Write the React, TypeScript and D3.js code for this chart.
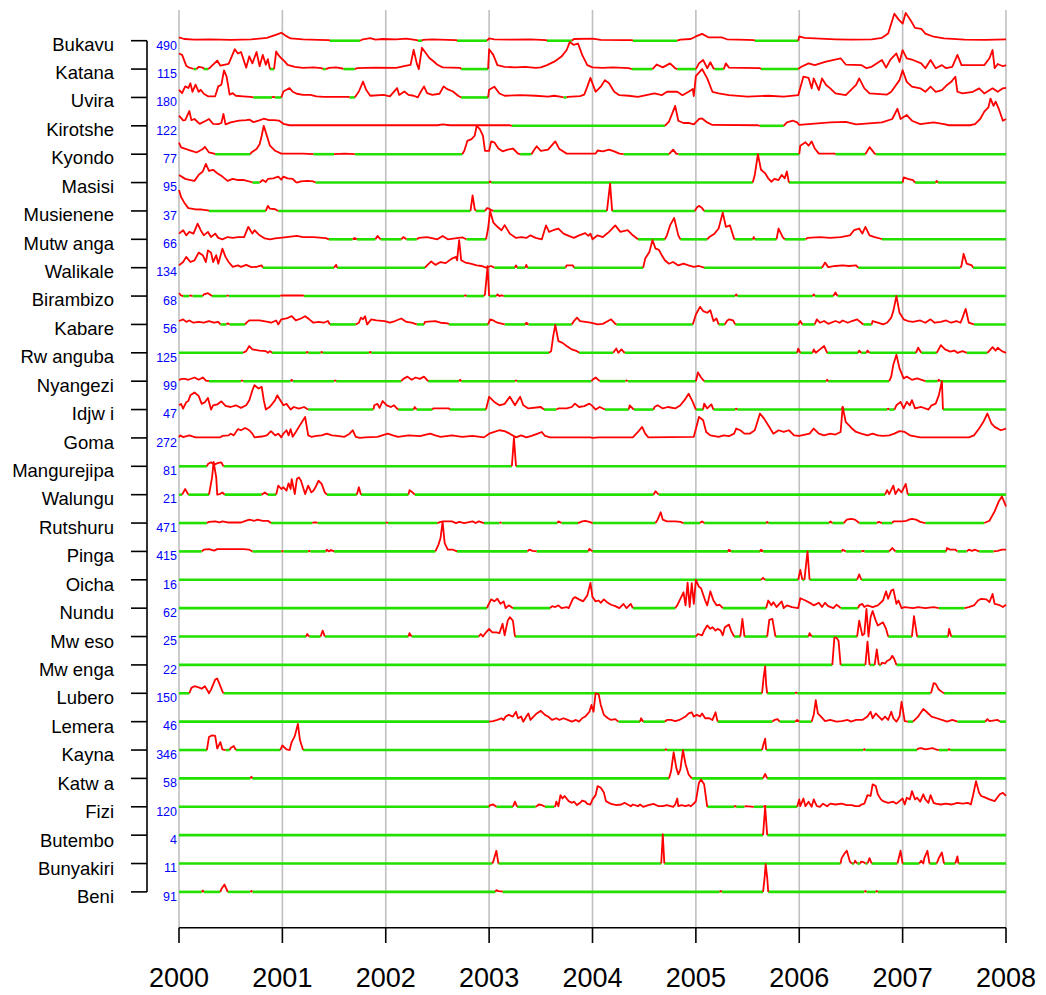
import React from "react";
import * as d3 from "d3";

// ---------- data (time = years after 2000, level = share of the district's weekly peak) ----------
const startYear = 2000;
const yearTicks = [2000, 2001, 2002, 2003, 2004, 2005, 2006, 2007, 2008];

const districts = ["Bukavu", "Katana", "Uvira", "Kirotshe", "Kyondo", "Masisi", "Musienene", "Mutw anga", "Walikale", "Birambizo", "Kabare", "Rw anguba", "Nyangezi", "Idjw i", "Goma", "Mangurejipa", "Walungu", "Rutshuru", "Pinga", "Oicha", "Nundu", "Mw eso", "Mw enga", "Lubero", "Lemera", "Kayna", "Katw a", "Fizi", "Butembo", "Bunyakiri", "Beni"];
const peakCases = [490, 115, 180, 122, 77, 95, 37, 66, 134, 68, 56, 125, 99, 47, 272, 81, 21, 471, 415, 16, 62, 25, 22, 150, 46, 346, 58, 120, 4, 11, 91];

type Pt = [number, number];

const bukavu: Pt[] = [[0,0.12],[0.05,0.06],[0.15,0.04],[0.3,0.05],[0.5,0.03],[0.7,0.05],[0.85,0.1],[0.95,0.22],[0.99,0.28],[1.03,0.18],[1.08,0.08],[1.2,0.05],[1.35,0.03],[1.45,0.02],[1.46,0],[1.75,0],[1.78,0.05],[1.85,0.09],[1.9,0.04],[1.97,0.06],[2.1,0.05],[2.2,0.07],[2.3,0.02],[2.31,0],[2.35,0],[2.36,0.03],[2.45,0.05],[2.6,0.03],[2.68,0.02],[2.69,0],[2.98,0],[3.0,0.08],[3.05,0.05],[3.2,0.04],[3.4,0.05],[3.55,0.02],[3.56,0],[3.8,0],[3.82,0.06],[4.0,0.07],[4.08,0.03],[4.3,0.02],[4.38,0.02],[4.39,0],[4.82,0],[4.85,0.04],[4.95,0.06],[5.0,0.15],[5.06,0.24],[5.12,0.12],[5.25,0.12],[5.3,0.05],[5.5,0.03],[5.56,0.02],[5.57,0],[5.99,0],[6.0,0.15],[6.05,0.1],[6.2,0.07],[6.35,0.05],[6.5,0.04],[6.7,0.05],[6.8,0.1],[6.86,0.25],[6.92,0.95],[6.96,0.75],[7.0,0.6],[7.03,0.98],[7.08,0.7],[7.12,0.45],[7.18,0.42],[7.22,0.25],[7.3,0.14],[7.4,0.08],[7.6,0.04],[7.8,0.03],[8.0,0.05]];
const katana: Pt[] = [[0,0.55],[0.03,0.5],[0.07,0.12],[0.1,0.05],[0.13,0.02],[0.14,0],[0.17,0],[0.19,0.08],[0.23,0.05],[0.24,0],[0.28,0],[0.3,0.05],[0.37,0.3],[0.4,0.12],[0.48,0.18],[0.54,0.7],[0.57,0.55],[0.6,0.6],[0.65,0.05],[0.68,0.45],[0.71,0.2],[0.75,0.6],[0.78,0.1],[0.81,0.5],[0.84,0.15],[0.86,0.35],[0.88,0],[0.92,0],[0.94,0.62],[0.96,0.5],[0.99,0.38],[1.02,0.28],[1.05,0.15],[1.12,0.08],[1.2,0.04],[1.3,0.06],[1.38,0.03],[1.39,0],[1.42,0],[1.45,0.04],[1.52,0.06],[1.58,0.02],[1.59,0],[1.7,0],[1.72,0.03],[1.9,0.05],[2.1,0.04],[2.2,0.12],[2.24,0.15],[2.27,0.68],[2.3,0.2],[2.32,0],[2.35,0.75],[2.38,0.6],[2.42,0.4],[2.47,0.25],[2.5,0.15],[2.55,0.06],[2.72,0.04],[2.73,0],[2.99,0],[3.0,0.7],[3.04,0.5],[3.08,0.14],[3.15,0.08],[3.25,0.06],[3.35,0.08],[3.45,0.04],[3.5,0.06],[3.56,0.14],[3.63,0.26],[3.7,0.44],[3.75,0.67],[3.78,0.95],[3.82,0.85],[3.86,0.9],[3.9,0.5],[3.95,0.14],[4.0,0.06],[4.1,0.04],[4.2,0.06],[4.35,0.03],[4.38,0],[4.58,0],[4.62,0.16],[4.68,0.06],[4.75,0.2],[4.8,0.03],[4.82,0],[5.0,0],[5.03,0.2],[5.07,0.32],[5.11,0.03],[5.14,0.24],[5.17,0.03],[5.18,0],[5.27,0],[5.29,0.2],[5.32,0.05],[5.45,0.04],[5.62,0.03],[5.63,0],[5.99,0],[6.02,0.08],[6.09,0.2],[6.15,0.14],[6.25,0.25],[6.4,0.38],[6.45,0.16],[6.6,0.14],[6.65,0.03],[6.7,0.08],[6.8,0.32],[6.84,0.05],[6.88,0.32],[6.94,0.55],[6.97,0.25],[7.0,0.67],[7.04,0.38],[7.1,0.32],[7.18,0.2],[7.22,0.03],[7.27,0.32],[7.32,0.03],[7.38,0.14],[7.42,0.03],[7.48,0.08],[7.53,0.5],[7.57,0.14],[7.79,0.14],[7.84,0.38],[7.87,0.67],[7.89,0.03],[7.92,0.18],[7.97,0.1],[8.0,0.14]];
const uvira: Pt[] = [[0,0.27],[0.03,0.15],[0.06,0.39],[0.09,0.33],[0.11,0.5],[0.13,0.2],[0.16,0.45],[0.19,0.2],[0.21,0.27],[0.24,0.13],[0.28,0.04],[0.35,0.04],[0.38,0.39],[0.41,0.45],[0.435,0.95],[0.46,0.74],[0.49,0.1],[0.52,0.15],[0.55,0.06],[0.62,0.04],[0.69,0.02],[0.72,0],[0.9,0],[0.91,0.02],[0.93,0],[0.99,0],[1.01,0.21],[1.04,0.27],[1.07,0.33],[1.1,0.2],[1.14,0.13],[1.2,0.09],[1.27,0.09],[1.33,0.04],[1.4,0.02],[1.64,0.02],[1.65,0],[1.7,0],[1.74,0.21],[1.78,0.56],[1.81,0.27],[1.85,0.06],[1.98,0.09],[2.04,0.04],[2.11,0.33],[2.13,0.09],[2.18,0.21],[2.22,0.09],[2.27,0.06],[2.31,0],[2.34,0.21],[2.37,0.39],[2.4,0.15],[2.45,0.09],[2.52,0.13],[2.56,0.39],[2.59,0.3],[2.65,0.21],[2.7,0.06],[2.73,0],[2.99,0],[3.0,0.27],[3.05,0.38],[3.1,0.14],[3.15,0.06],[3.3,0.08],[3.45,0.06],[3.57,0.03],[3.63,0.06],[3.7,0.02],[3.72,0],[3.75,0],[3.76,0.02],[3.88,0.05],[3.92,0.1],[3.95,0.38],[3.98,0.69],[4.03,0.2],[4.08,0.38],[4.12,0.61],[4.16,0.5],[4.21,0.2],[4.26,0.08],[4.35,0.06],[4.44,0.02],[4.52,0.08],[4.6,0.14],[4.67,0.08],[4.72,0.2],[4.82,0.2],[4.87,0.08],[4.93,0.2],[4.97,0.3],[4.98,0.05],[5.0,0.75],[5.06,1.0],[5.11,0.67],[5.16,0.2],[5.22,0.14],[5.32,0.08],[5.5,0.03],[5.7,0.06],[5.85,0.03],[5.99,0.08],[6.04,0.73],[6.09,0.69],[6.12,0.32],[6.14,0.67],[6.19,0.26],[6.22,0.67],[6.26,0.44],[6.3,0.32],[6.35,0.14],[6.45,0.08],[6.55,0.44],[6.58,0.67],[6.63,0.32],[6.68,0.14],[6.85,0.1],[6.89,0.2],[6.97,0.61],[7.0,0.96],[7.04,0.55],[7.09,0.38],[7.17,0.32],[7.22,0.2],[7.27,0.38],[7.32,0.2],[7.38,0.26],[7.43,0.44],[7.47,0.55],[7.51,0.73],[7.53,0.2],[7.58,0.14],[7.68,0.2],[7.74,0.32],[7.79,0.14],[7.87,0.32],[7.92,0.2],[7.97,0.32],[8.0,0.34]];
const kirotshe: Pt[] = [[0,0.36],[0.04,0.19],[0.06,0.2],[0.1,0.52],[0.12,0.2],[0.15,0.24],[0.2,0.07],[0.26,0.18],[0.29,0.24],[0.33,0.07],[0.38,0.06],[0.41,0.1],[0.43,0.42],[0.45,0.05],[0.5,0.12],[0.58,0.18],[0.65,0.2],[0.68,0.22],[0.72,0.13],[0.77,0.18],[0.82,0.25],[0.87,0.2],[0.92,0.2],[0.97,0.18],[1.01,0.07],[1.07,0.02],[1.3,0.02],[1.6,0.02],[2.5,0.02],[2.55,0.05],[2.62,0.02],[3.0,0.02],[3.2,0.02],[3.22,0],[4.7,0],[4.74,0.15],[4.8,0.7],[4.83,0.18],[4.88,0.1],[4.93,0.1],[4.98,0.05],[5.03,0.24],[5.06,0.26],[5.11,0.12],[5.16,0.03],[5.6,0.02],[5.62,0],[5.85,0],[5.88,0.12],[5.94,0.18],[5.98,0.12],[6.0,0.03],[6.3,0.12],[6.45,0.14],[6.55,0.05],[6.8,0.12],[6.9,0.24],[6.95,0.6],[6.98,0.24],[7.04,0.38],[7.09,0.18],[7.17,0.06],[7.3,0.12],[7.4,0.06],[7.45,0.02],[7.65,0.02],[7.7,0.06],[7.75,0.24],[7.79,0.5],[7.83,0.65],[7.85,0.96],[7.88,0.7],[7.9,0.85],[7.93,0.6],[7.97,0.18],[8.0,0.24]];
const kyondo: Pt[] = [[0,0.41],[0.02,0.24],[0.07,0.18],[0.12,0.12],[0.17,0.06],[0.2,0.12],[0.23,0.18],[0.25,0.26],[0.29,0.06],[0.34,0.02],[0.35,0],[0.69,0],[0.7,0.06],[0.75,0.18],[0.78,0.35],[0.8,0.65],[0.82,1.0],[0.85,0.65],[0.88,0.3],[0.93,0.12],[0.99,0.02],[1.2,0.02],[1.3,0],[1.5,0],[1.6,0.02],[1.7,0],[2.74,0],[2.76,0.12],[2.79,0.47],[2.83,0.53],[2.86,0.65],[2.88,1.0],[2.91,0.88],[2.94,0.65],[2.96,0.12],[3.0,0.12],[3.02,0.45],[3.05,0.42],[3.09,0.2],[3.13,0.1],[3.18,0.16],[3.23,0.2],[3.28,0.02],[3.3,0],[3.41,0],[3.43,0.12],[3.46,0.28],[3.5,0.12],[3.57,0.16],[3.64,0.45],[3.68,0.18],[3.75,0.02],[4.03,0.02],[4.05,0.13],[4.1,0.1],[4.16,0.16],[4.21,0.1],[4.26,0.02],[4.3,0],[4.74,0],[4.78,0.16],[4.81,0.02],[4.83,0],[6.0,0],[6.01,0.3],[6.06,0.42],[6.09,0.3],[6.12,0.45],[6.15,0.2],[6.19,0.02],[6.34,0.02],[6.35,0],[6.64,0],[6.68,0.25],[6.73,0.02],[6.74,0],[8,0]];
const masisi: Pt[] = [[0,0.27],[0.06,0.13],[0.11,0.09],[0.15,0.06],[0.19,0.27],[0.23,0.39],[0.26,0.66],[0.29,0.41],[0.33,0.45],[0.37,0.33],[0.42,0.21],[0.47,0.06],[0.52,0.13],[0.57,0.09],[0.63,0.09],[0.7,0.02],[0.71,0],[0.78,0],[0.81,0.09],[0.84,0.02],[0.86,0.13],[0.91,0.15],[0.96,0.21],[0.99,0.1],[1.01,0.21],[1.05,0.15],[1.1,0.13],[1.13,0.02],[1.14,0],[1.18,0.04],[1.24,0.06],[1.3,0.04],[1.32,0],[3.0,0],[3.01,0.04],[3.02,0],[5.55,0],[5.57,0.27],[5.6,1.0],[5.63,0.45],[5.67,0.33],[5.7,0.15],[5.73,0.03],[5.76,0.13],[5.8,0.09],[5.83,0.27],[5.86,0.15],[5.88,0.39],[5.9,0],[7.0,0],[7.01,0.18],[7.05,0.13],[7.1,0.09],[7.12,0],[7.32,0],[7.33,0.06],[7.34,0],[8,0]];
const musienene: Pt[] = [[0,0.74],[0.02,0.49],[0.05,0.3],[0.09,0.1],[0.15,0.06],[0.22,0.05],[0.28,0.02],[0.29,0],[0.84,0],[0.86,0.18],[0.88,0.08],[0.93,0.06],[0.96,0],[2.82,0],[2.84,0.55],[2.86,0.08],[2.87,0],[2.96,0],[2.98,0.1],[3.0,0.08],[3.02,0.03],[3.04,0],[4.14,0],[4.17,0.96],[4.19,0],[4.99,0],[5.01,0.12],[5.03,0.18],[5.06,0.1],[5.08,0],[8,0]];
const mutwanga: Pt[] = [[0,0.2],[0.04,0.32],[0.07,0.14],[0.1,0.26],[0.14,0.2],[0.18,0.55],[0.21,0.32],[0.24,0.14],[0.28,0.26],[0.31,0.08],[0.35,0.2],[0.38,0.05],[0.42,0],[0.47,0.08],[0.52,0.05],[0.57,0.08],[0.63,0.08],[0.67,0.44],[0.71,0.2],[0.73,0.32],[0.78,0.14],[0.83,0.03],[0.88,0],[0.93,0.03],[1.0,0.06],[1.14,0.12],[1.2,0.08],[1.3,0.08],[1.42,0.04],[1.45,0],[1.68,0],[1.7,0.05],[1.72,0],[1.9,0],[1.92,0.12],[1.95,0],[2.15,0],[2.17,0.08],[2.2,0],[2.3,0],[2.32,0.05],[2.4,0.08],[2.5,0],[2.55,0.12],[2.6,0],[2.74,0.07],[2.78,0],[2.97,0],[2.99,0.38],[3.01,1.0],[3.04,0.6],[3.08,0.44],[3.12,0.32],[3.15,0.5],[3.2,0.2],[3.26,0.05],[3.31,0.08],[3.36,0.05],[3.4,0.14],[3.45,0.05],[3.51,0],[3.55,0.49],[3.58,0.26],[3.62,0.32],[3.67,0.38],[3.72,0.2],[3.77,0.12],[3.82,0.05],[3.87,0.14],[3.93,0.22],[3.96,0.12],[3.98,0.2],[4.0,0],[4.05,0.14],[4.1,0.08],[4.16,0.26],[4.22,0.49],[4.27,0.26],[4.34,0.32],[4.39,0.14],[4.44,0],[4.7,0],[4.72,0.14],[4.75,0.49],[4.79,0.75],[4.83,0.14],[4.85,0],[5.11,0],[5.13,0.08],[5.18,0.2],[5.22,0.38],[5.26,0.94],[5.29,0.44],[5.33,0.49],[5.37,0.02],[5.38,0],[5.55,0],[5.56,0.08],[5.57,0],[5.78,0],[5.8,0.38],[5.84,0.08],[5.86,0],[6.06,0],[6.08,0.05],[6.2,0.08],[6.3,0.05],[6.4,0.08],[6.49,0.14],[6.53,0.32],[6.58,0.38],[6.61,0.2],[6.64,0.44],[6.68,0.14],[6.73,0.08],[6.79,0.02],[6.8,0],[8,0]];
const walikale: Pt[] = [[0,0.08],[0.04,0.2],[0.07,0.38],[0.11,0.2],[0.15,0.26],[0.19,0.53],[0.23,0.44],[0.26,0.2],[0.28,0.61],[0.31,0.53],[0.33,0.2],[0.36,0.44],[0.38,0.14],[0.42,0.67],[0.45,0.38],[0.48,0.2],[0.52,0.03],[0.57,0.08],[0.6,0.03],[0.65,0.1],[0.7,0.02],[0.75,0.03],[0.8,0.08],[0.81,0],[1.5,0],[1.52,0.1],[1.53,0],[2.38,0],[2.4,0.08],[2.44,0.22],[2.48,0.1],[2.53,0.2],[2.58,0.16],[2.64,0.32],[2.68,0.38],[2.69,0.26],[2.71,0.97],[2.73,0.26],[2.77,0.18],[2.82,0.14],[2.88,0.08],[2.93,0.06],[2.97,0],[3.02,0.06],[3.05,0],[3.25,0],[3.26,0.08],[3.27,0],[3.35,0],[3.36,0.1],[3.37,0],[3.74,0],[3.75,0.08],[3.81,0.08],[3.82,0],[4.49,0],[4.51,0.32],[4.55,0.55],[4.58,0.97],[4.61,0.67],[4.64,0.64],[4.67,0.44],[4.7,0.26],[4.74,0.14],[4.78,0.2],[4.83,0.08],[4.88,0.14],[4.93,0.08],[4.98,0.03],[5.03,0.06],[5.08,0],[6.22,0],[6.25,0.18],[6.28,0.02],[6.35,0.06],[6.42,0.08],[6.48,0.06],[6.55,0.08],[6.57,0],[7.56,0],[7.57,0.08],[7.59,0.49],[7.62,0.14],[7.67,0.08],[7.68,0],[8,0]];
const birambizo: Pt[] = [[0,0.1],[0.02,0.02],[0.04,0],[0.1,0],[0.11,0.02],[0.13,0],[0.23,0],[0.24,0.06],[0.28,0.1],[0.32,0],[0.46,0],[0.47,0.02],[0.48,0],[0.98,0],[0.99,0.02],[1.2,0.02],[1.21,0],[2.76,0],[2.77,0.03],[2.78,0],[2.95,0],[2.96,0.06],[2.985,1.05],[3.0,0],[3.07,0],[3.08,0.06],[3.1,0],[3.12,0.03],[3.14,0],[5.38,0],[5.39,0.06],[5.4,0],[6.13,0],[6.14,0.06],[6.15,0],[6.33,0],[6.35,0.13],[6.37,0],[8,0]];
const kabare: Pt[] = [[0,0.12],[0.04,0.18],[0.07,0.09],[0.1,0.14],[0.14,0.06],[0.19,0.09],[0.24,0.06],[0.29,0.12],[0.34,0.06],[0.38,0.09],[0.4,0],[0.46,0],[0.47,0.04],[0.49,0],[0.64,0],[0.66,0.09],[0.68,0.14],[0.78,0.14],[0.86,0.09],[0.89,0.06],[0.94,0.14],[0.96,0],[0.99,0.18],[1.04,0.21],[1.09,0.29],[1.13,0.14],[1.18,0.21],[1.22,0.29],[1.26,0.18],[1.3,0.06],[1.35,0.09],[1.4,0.06],[1.44,0.12],[1.46,0],[1.71,0],[1.74,0.06],[1.76,0.24],[1.78,0.18],[1.8,0.29],[1.82,0],[1.86,0.18],[1.91,0.14],[1.99,0.12],[2.04,0.06],[2.09,0.12],[2.15,0.21],[2.2,0.09],[2.25,0.06],[2.3,0],[2.37,0],[2.38,0.09],[2.48,0.12],[2.53,0.06],[2.6,0.04],[2.61,0],[2.99,0],[3.01,0.18],[3.04,0.14],[3.08,0.06],[3.12,0.03],[3.15,0],[3.35,0],[3.36,0.06],[3.38,0],[3.8,0],[3.82,0.12],[3.85,0.24],[3.88,0.12],[3.93,0.09],[3.98,0.06],[4.05,0],[4.1,0.02],[4.15,0.12],[4.18,0.18],[4.21,0.06],[4.23,0],[4.97,0],[5.0,0.35],[5.04,0.62],[5.07,0.47],[5.11,0.41],[5.14,0.5],[5.17,0.12],[5.2,0.21],[5.22,0],[5.28,0],[5.3,0.12],[5.32,0.18],[5.36,0.14],[5.38,0],[5.99,0],[6.01,0.12],[6.03,0],[6.15,0],[6.17,0.18],[6.2,0.06],[6.24,0.12],[6.28,0.02],[6.35,0.12],[6.39,0.06],[6.42,0.14],[6.47,0.06],[6.51,0.12],[6.56,0.18],[6.6,0.06],[6.62,0],[6.7,0],[6.71,0.12],[6.76,0.06],[6.81,0],[6.85,0.06],[6.89,0.24],[6.91,0.47],[6.94,1.0],[6.97,0.41],[7.01,0.18],[7.05,0.12],[7.1,0.09],[7.17,0.14],[7.22,0.06],[7.27,0.18],[7.31,0.06],[7.37,0.09],[7.42,0.14],[7.47,0.06],[7.52,0.12],[7.56,0.06],[7.58,0.24],[7.61,0.55],[7.64,0.06],[7.69,0],[8,0]];
const rwanguba: Pt[] = [[0,0],[0.62,0],[0.65,0.06],[0.68,0.24],[0.71,0.12],[0.78,0.08],[0.84,0.06],[0.86,0],[0.88,0.06],[0.9,0],[1.23,0],[1.24,0.03],[1.25,0],[1.37,0],[1.38,0.03],[1.39,0],[1.84,0],[1.85,0.03],[1.86,0],[3.58,0],[3.6,0.06],[3.62,0.59],[3.64,0.98],[3.67,0.41],[3.71,0.35],[3.75,0.24],[3.8,0.12],[3.85,0.06],[3.87,0],[4.2,0],[4.23,0.15],[4.25,0],[4.28,0.12],[4.31,0],[5.98,0],[5.99,0.15],[6.01,0],[6.13,0],[6.14,0.12],[6.16,0],[6.2,0.12],[6.24,0.24],[6.27,0],[6.57,0],[6.58,0.08],[6.6,0],[6.65,0],[6.66,0.08],[6.68,0],[7.13,0],[7.15,0.18],[7.18,0],[7.33,0],[7.37,0.27],[7.41,0.12],[7.46,0.04],[7.5,0.08],[7.53,0],[7.58,0.06],[7.62,0],[7.82,0],[7.84,0.08],[7.87,0.2],[7.9,0.08],[7.92,0.18],[7.96,0.06],[8,0]];
const nyangezi: Pt[] = [[0,0.05],[0.03,0.08],[0.06,0.08],[0.09,0.05],[0.15,0.13],[0.19,0.05],[0.23,0.13],[0.26,0.02],[0.29,0],[0.6,0],[0.61,0.03],[0.62,0],[1.08,0],[1.09,0.05],[1.1,0],[1.5,0],[1.51,0.03],[1.52,0],[2.15,0],[2.17,0.08],[2.21,0.16],[2.25,0.05],[2.29,0.13],[2.33,0.08],[2.37,0.16],[2.41,0],[2.71,0],[2.72,0.05],[2.73,0],[3.25,0],[3.26,0.03],[3.27,0],[3.99,0],[4.0,0.05],[4.03,0.13],[4.07,0],[4.32,0],[4.33,0.03],[4.34,0],[5.0,0],[5.02,0.31],[5.05,0.13],[5.08,0],[6.26,0],[6.27,0.05],[6.28,0],[6.87,0],[6.89,0.16],[6.91,0.58],[6.94,0.93],[6.97,0.45],[7.01,0.1],[7.04,0.16],[7.09,0.05],[7.14,0.1],[7.22,0],[7.34,0],[7.35,0.05],[7.36,0],[8,0]];
const idjwi: Pt[] = [[0,0.15],[0.02,0.2],[0.04,0.03],[0.07,0.26],[0.09,0.3],[0.11,0.5],[0.15,0.6],[0.19,0.48],[0.22,0.2],[0.25,0.26],[0.28,0.41],[0.31,0],[0.33,0.15],[0.37,0.18],[0.41,0.29],[0.45,0.13],[0.5,0.09],[0.55,0.15],[0.6,0.06],[0.65,0.15],[0.68,0.33],[0.71,0.68],[0.73,0.86],[0.77,0.74],[0.8,0.8],[0.82,0.33],[0.84,0],[0.88,0.1],[0.93,0.33],[0.95,0.5],[0.98,0.33],[1.01,0.15],[1.04,0.2],[1.08,0],[1.11,0.09],[1.16,0.03],[1.21,0.09],[1.24,0.02],[1.25,0],[1.88,0],[1.89,0.15],[1.92,0.2],[1.94,0.06],[1.97,0.3],[2.01,0.15],[2.05,0.09],[2.08,0.15],[2.12,0],[2.27,0],[2.28,0.09],[2.3,0],[2.45,0],[2.46,0.04],[2.61,0.04],[2.62,0],[2.97,0],[3.0,0.45],[3.05,0.27],[3.1,0.15],[3.15,0.2],[3.2,0.45],[3.25,0.15],[3.3,0.45],[3.33,0.15],[3.38,0.04],[3.5,0.09],[3.53,0],[3.65,0],[3.67,0.04],[3.75,0.04],[3.8,0.09],[3.83,0.21],[3.87,0.09],[3.92,0.12],[3.97,0.21],[4.0,0.12],[4.03,0],[4.07,0.09],[4.12,0],[4.35,0],[4.36,0.15],[4.39,0.03],[4.4,0],[4.59,0],[4.6,0.09],[4.63,0.15],[4.68,0.04],[4.73,0.09],[4.8,0.04],[4.85,0.15],[4.89,0.33],[4.93,0.56],[4.97,0.27],[5.0,0],[5.07,0],[5.08,0.21],[5.11,0.04],[5.15,0.18],[5.17,0],[5.38,0],[5.39,0.03],[5.4,0],[6.41,0],[6.42,0.09],[6.43,0],[6.85,0],[6.86,0.03],[6.87,0],[6.92,0],[6.94,0.15],[6.98,0.27],[7.01,0.04],[7.04,0.27],[7.07,0.15],[7.09,0.33],[7.12,0.04],[7.18,0.09],[7.25,0],[7.28,0.15],[7.32,0.21],[7.35,0.5],[7.38,1.0],[7.39,0],[8,0]];
const goma: Pt[] = [[0,0.02],[0.01,0.09],[0.04,0.03],[0.1,0.09],[0.16,0.02],[0.4,0.02],[0.42,0.07],[0.48,0.09],[0.5,0.15],[0.53,0.09],[0.57,0.31],[0.6,0.27],[0.64,0.35],[0.68,0.27],[0.71,0.15],[0.73,0.02],[0.8,0.05],[0.85,0.09],[0.89,0.24],[0.93,0.09],[0.96,0.15],[0.99,0.02],[1.01,0.15],[1.04,0.27],[1.06,0.09],[1.08,0.31],[1.1,0.04],[1.13,0.21],[1.17,0.45],[1.2,0.62],[1.22,0.74],[1.25,0.09],[1.28,0.04],[1.33,0.07],[1.38,0.09],[1.43,0.15],[1.48,0.09],[1.53,0.07],[1.6,0.04],[1.65,0.15],[1.68,0.27],[1.71,0.04],[1.75,0],[1.8,0.02],[1.92,0.04],[2.02,0.15],[2.07,0.09],[2.12,0.04],[2.22,0.09],[2.33,0.06],[2.43,0.15],[2.48,0.09],[2.53,0.04],[2.64,0.09],[2.74,0.04],[2.84,0.07],[2.95,0.02],[3.0,0.15],[3.05,0.21],[3.1,0.27],[3.15,0.24],[3.2,0.15],[3.26,0.02],[3.31,0.09],[3.36,0.02],[3.41,0.07],[3.47,0.15],[3.51,0.21],[3.54,0.07],[3.59,0.02],[3.98,0.02],[4.0,0],[4.06,0.02],[4.39,0.02],[4.44,0.21],[4.48,0.39],[4.51,0.15],[4.54,0.02],[4.98,0.04],[5.03,0.74],[5.07,0.62],[5.1,0.21],[5.14,0.09],[5.22,0.04],[5.27,0.09],[5.32,0.06],[5.37,0.15],[5.39,0.33],[5.43,0.27],[5.47,0.15],[5.52,0.15],[5.57,0.27],[5.62,0.86],[5.66,0.68],[5.7,0.45],[5.75,0.15],[5.8,0.27],[5.85,0.21],[5.9,0.27],[5.95,0.09],[6.0,0.07],[6.1,0.15],[6.14,0.33],[6.19,0.15],[6.24,0.09],[6.3,0.15],[6.35,0.12],[6.4,0.21],[6.42,1.09],[6.45,0.56],[6.48,0.45],[6.51,0.33],[6.55,0.21],[6.6,0.15],[6.66,0.09],[6.71,0.15],[6.76,0.09],[6.81,0.07],[6.87,0.09],[6.92,0.15],[6.97,0.24],[7.02,0.21],[7.07,0.09],[7.17,0.02],[7.64,0.02],[7.69,0.09],[7.74,0.33],[7.78,0.56],[7.82,0.86],[7.86,0.5],[7.89,0.39],[7.95,0.27],[8.0,0.33]];
const mangurejipa: Pt[] = [[0,0],[0.27,0],[0.28,0.08],[0.31,0.14],[0.34,0.06],[0.38,0.12],[0.41,0.14],[0.43,0],[3.22,0],[3.24,1.0],[3.26,0],[8,0]];
const walungu: Pt[] = [[0,0],[0.03,0],[0.06,0.2],[0.09,0],[0.29,0],[0.32,0.61],[0.335,1.15],[0.36,0.61],[0.37,0],[0.4,0.03],[0.42,0.08],[0.44,0],[0.8,0],[0.83,0.08],[0.86,0],[0.94,0],[0.96,0.32],[0.99,0.2],[1.01,0.26],[1.04,0.14],[1.06,0.4],[1.08,0.2],[1.09,0.55],[1.12,0.02],[1.14,0.55],[1.16,0.61],[1.18,0.49],[1.2,0.26],[1.22,0.02],[1.25,0.32],[1.28,0.08],[1.3,0.14],[1.32,0.26],[1.35,0.49],[1.38,0.38],[1.41,0.08],[1.43,0],[1.72,0],[1.74,0.26],[1.76,0],[2.22,0],[2.23,0.16],[2.26,0.08],[2.28,0],[4.59,0],[4.61,0.12],[4.64,0],[6.83,0],[6.85,0.16],[6.87,0.02],[6.91,0.32],[6.93,0.02],[6.96,0.2],[6.99,0.08],[7.03,0.38],[7.05,0],[8,0]];
const rutshuru: Pt[] = [[0,0],[0.27,0],[0.29,0.04],[0.35,0.06],[0.39,0.02],[0.42,0.06],[0.47,0.02],[0.6,0.02],[0.63,0.06],[0.68,0.12],[0.73,0.08],[0.76,0.12],[0.81,0.08],[0.86,0.08],[0.89,0],[1.29,0],[1.3,0.02],[1.33,0.02],[1.34,0],[2.0,0],[2.01,0.02],[2.02,0],[2.5,0],[2.53,0.04],[2.56,0.06],[2.64,0.06],[2.68,0],[2.71,0.04],[2.76,0],[2.84,0.06],[2.87,0],[2.9,0.06],[2.95,0],[3.1,0],[3.11,0.02],[3.12,0],[3.66,0],[3.67,0.06],[3.7,0],[3.86,0],[3.9,0.06],[3.93,0.08],[3.97,0.04],[4.0,0],[4.61,0],[4.63,0.12],[4.66,0.38],[4.68,0.12],[4.72,0.06],[4.8,0.06],[4.85,0.04],[4.88,0],[5.04,0],[5.06,0.06],[5.08,0],[5.68,0],[5.69,0.04],[5.7,0],[6.29,0],[6.3,0.06],[6.32,0],[6.43,0],[6.46,0.12],[6.5,0.15],[6.54,0.12],[6.58,0],[6.75,0],[6.77,0.04],[6.8,0],[6.9,0],[6.91,0.06],[6.99,0.06],[7.04,0.08],[7.06,0.12],[7.09,0.15],[7.13,0.12],[7.17,0.04],[7.22,0],[7.79,0],[7.84,0.08],[7.89,0.41],[7.93,0.76],[7.96,0.94],[8.0,0.59]];
const pinga: Pt[] = [[0,0],[0.22,0],[0.24,0.06],[0.29,0.08],[0.34,0.03],[0.37,0.08],[0.5,0.08],[0.62,0.08],[0.68,0.06],[0.71,0],[0.99,0],[1.0,0.01],[1.01,0],[1.25,0],[1.26,0.02],[1.27,0],[1.42,0],[1.43,0.06],[1.45,0],[1.47,0.05],[1.5,0],[2.48,0],[2.51,0.24],[2.53,0.47],[2.55,1.05],[2.57,0.29],[2.6,0.06],[2.65,0.06],[2.69,0],[3.37,0],[3.39,0.06],[3.42,0.02],[3.46,0],[3.96,0],[3.97,0.09],[4.0,0],[5.31,0],[5.32,0.06],[5.34,0],[5.62,0],[5.63,0.06],[5.65,0],[6.41,0],[6.42,0.06],[6.44,0.02],[6.45,0],[6.6,0],[6.62,0.02],[6.63,0],[6.87,0],[6.9,0.12],[6.93,0],[7.42,0],[7.43,0.12],[7.46,0.06],[7.51,0.06],[7.53,0],[7.62,0],[7.64,0.06],[7.67,0.02],[7.7,0.06],[7.74,0],[7.88,0],[7.92,0.02],[7.96,0.06],[8.0,0.06]];
const oicha: Pt[] = [[0,0],[5.63,0],[5.65,0.07],[5.67,0],[5.99,0],[6.01,0.35],[6.03,0],[6.05,0],[6.08,1.0],[6.1,0],[6.56,0],[6.58,0.19],[6.6,0],[8,0]];
const nundu: Pt[] = [[0,0],[2.98,0],[2.99,0.1],[3.02,0.31],[3.05,0.24],[3.08,0.33],[3.11,0.15],[3.14,0.24],[3.16,0],[3.19,0.1],[3.23,0],[3.59,0],[3.61,0.07],[3.64,0.04],[3.67,0.1],[3.7,0],[3.75,0.04],[3.77,0],[3.81,0.33],[3.83,0.39],[3.87,0.31],[3.91,0.24],[3.95,0.45],[3.98,0.89],[4.0,0.39],[4.03,0.24],[4.06,0.27],[4.08,0.19],[4.11,0.31],[4.14,0.21],[4.18,0.12],[4.22,0.07],[4.26,0],[4.3,0.15],[4.33,0],[4.37,0.15],[4.39,0],[4.8,0],[4.82,0.1],[4.85,0.33],[4.88,0.56],[4.9,0.1],[4.92,0.9],[4.94,0.04],[4.96,0.88],[4.98,0.15],[5.0,1.0],[5.03,0.75],[5.05,0.7],[5.09,0.27],[5.11,0.1],[5.14,0.59],[5.17,0.27],[5.2,0.1],[5.23,0.12],[5.26,0],[5.68,0],[5.7,0.27],[5.73,0.1],[5.75,0.21],[5.78,0.04],[5.83,0.24],[5.85,0],[5.88,0.1],[5.93,0.04],[5.99,0],[6.01,0.35],[6.06,0.27],[6.12,0.15],[6.14,0.1],[6.19,0.19],[6.22,0.04],[6.25,0.19],[6.28,0.07],[6.33,0],[6.36,0.12],[6.38,0.07],[6.4,0],[6.57,0],[6.58,0.1],[6.61,0.15],[6.63,0.04],[6.66,0.1],[6.71,0.04],[6.76,0.1],[6.81,0.27],[6.84,0.59],[6.86,0.33],[6.89,0.62],[6.91,0.66],[6.94,0.15],[6.96,0.27],[6.99,0],[7.02,0.04],[7.1,0],[7.15,0.04],[7.22,0],[7.3,0.04],[7.35,0],[7.6,0],[7.64,0.04],[7.69,0.1],[7.73,0.27],[7.76,0.33],[7.81,0.31],[7.84,0.21],[7.87,0.5],[7.89,0.15],[7.93,0.12],[7.97,0.04],[8.0,0.12]];
const mweso: Pt[] = [[0,0],[1.23,0],[1.24,0.09],[1.26,0],[1.37,0],[1.39,0.21],[1.41,0],[2.22,0],[2.23,0.12],[2.25,0],[2.9,0],[2.92,0.09],[2.94,0],[2.97,0.15],[3.0,0.27],[3.03,0.15],[3.07,0.15],[3.1,0.12],[3.13,0.45],[3.15,0.04],[3.18,0.56],[3.2,0.68],[3.23,0.56],[3.25,0],[5.0,0],[5.02,0.09],[5.06,0.04],[5.08,0.21],[5.11,0.39],[5.14,0.27],[5.16,0.33],[5.19,0.21],[5.21,0.27],[5.24,0.21],[5.26,0.04],[5.28,0.33],[5.32,0.42],[5.34,0.21],[5.37,0],[5.43,0],[5.45,0.62],[5.47,0],[5.69,0],[5.71,0.59],[5.74,0.62],[5.77,0],[6.09,0],[6.1,0.12],[6.12,0],[6.56,0],[6.58,0.56],[6.61,0.04],[6.63,0.1],[6.65,0.97],[6.67,0],[6.69,0.68],[6.71,0.9],[6.74,0.56],[6.76,0.39],[6.81,0.5],[6.84,0.27],[6.86,0],[7.09,0],[7.11,0.72],[7.14,0],[7.44,0],[7.45,0.27],[7.47,0],[8,0]];
const mwenga: Pt[] = [[0,0],[6.32,0],[6.34,0.96],[6.36,0.96],[6.38,0.85],[6.4,0],[6.64,0],[6.66,0.82],[6.68,0],[6.73,0],[6.75,0.55],[6.77,0],[6.79,0],[6.8,0.08],[6.83,0.05],[6.85,0.14],[6.88,0.2],[6.9,0.32],[6.92,0.2],[6.94,0],[8,0]];
const lubero: Pt[] = [[0,0],[0.1,0],[0.12,0.19],[0.15,0.25],[0.19,0.21],[0.22,0.16],[0.25,0.25],[0.28,0.07],[0.29,0],[0.31,0.13],[0.35,0.48],[0.37,0.52],[0.4,0.25],[0.42,0.07],[0.43,0],[5.64,0],[5.655,0.55],[5.67,0.95],[5.68,0.3],[5.69,0],[5.96,0],[5.97,0.03],[5.98,0],[7.27,0],[7.28,0.07],[7.3,0.36],[7.32,0.33],[7.35,0.13],[7.38,0.05],[7.4,0],[8,0]];
const lemera: Pt[] = [[0,0],[3.0,0],[3.04,0.02],[3.08,0.06],[3.12,0.12],[3.14,0.06],[3.16,0.18],[3.19,0.24],[3.23,0.18],[3.26,0.35],[3.28,0.12],[3.31,0.18],[3.33,0],[3.36,0.18],[3.38,0.29],[3.4,0.06],[3.43,0.18],[3.46,0.29],[3.5,0.38],[3.54,0.24],[3.57,0.18],[3.61,0.06],[3.65,0.12],[3.68,0.06],[3.72,0.12],[3.76,0.06],[3.8,0],[3.84,0.06],[3.87,0],[3.9,0.12],[3.93,0.18],[3.97,0.35],[3.99,0.59],[4.01,0.35],[4.03,1.0],[4.06,0.96],[4.08,0.59],[4.11,0.24],[4.15,0.12],[4.18,0.06],[4.22,0.09],[4.25,0],[4.46,0],[4.47,0.12],[4.49,0],[4.7,0],[4.72,0.06],[4.76,0.06],[4.8,0.02],[4.84,0.06],[4.9,0.18],[4.93,0.29],[4.96,0.33],[4.98,0.18],[5.01,0.24],[5.04,0.18],[5.06,0.29],[5.09,0.12],[5.13,0.12],[5.16,0.06],[5.19,0.33],[5.21,0],[5.74,0],[5.76,0.06],[5.79,0.09],[5.81,0],[5.96,0],[5.98,0.06],[6.0,0],[6.12,0],[6.14,0.24],[6.16,0.76],[6.18,0.29],[6.21,0.18],[6.25,0.02],[6.3,0.06],[6.36,0],[6.41,0.02],[6.47,0.06],[6.5,0],[6.55,0.06],[6.61,0.06],[6.66,0.18],[6.69,0.35],[6.71,0.12],[6.74,0.29],[6.77,0.18],[6.8,0.06],[6.83,0.18],[6.86,0.06],[6.89,0.35],[6.91,0.12],[6.94,0],[6.97,0.18],[6.99,0.7],[7.02,0.02],[7.05,0],[7.1,0],[7.15,0.18],[7.2,0.45],[7.23,0.35],[7.28,0.18],[7.33,0.12],[7.38,0.06],[7.43,0],[7.48,0.06],[7.53,0],[7.8,0],[7.82,0.09],[7.84,0.02],[7.92,0.06],[7.94,0],[8,0]];
const kayna: Pt[] = [[0,0],[0.27,0],[0.29,0.46],[0.32,0.52],[0.35,0.5],[0.37,0.05],[0.4,0.28],[0.42,0.02],[0.45,0],[0.49,0],[0.5,0.07],[0.53,0.14],[0.55,0],[0.98,0],[1.0,0.16],[1.04,0.02],[1.07,0],[1.09,0.28],[1.12,0.49],[1.15,0.92],[1.17,0.35],[1.2,0],[4.7,0],[4.71,0.03],[4.72,0],[5.64,0],[5.655,0.22],[5.67,0.4],[5.68,0],[6.62,0],[6.63,0.03],[6.64,0],[7.14,0],[7.15,0.05],[7.18,0.07],[7.22,0.02],[7.26,0.05],[7.29,0.07],[7.32,0.02],[7.35,0],[7.44,0],[7.45,0.03],[7.46,0],[8,0]];
const katwa: Pt[] = [[0,0],[0.69,0],[0.7,0.06],[0.71,0],[4.74,0],[4.76,0.25],[4.785,0.92],[4.81,0.38],[4.83,0.14],[4.85,0.32],[4.875,1.0],[4.9,0.5],[4.93,0.14],[4.96,0],[5.65,0],[5.67,0.16],[5.69,0],[8,0]];
const fizi: Pt[] = [[0,0],[3.0,0],[3.01,0.06],[3.04,0.08],[3.07,0],[3.23,0],[3.25,0.18],[3.27,0],[3.45,0],[3.46,0.02],[3.48,0.08],[3.51,0.06],[3.54,0],[3.63,0],[3.64,0.02],[3.65,0.18],[3.67,0.02],[3.69,0.41],[3.71,0.29],[3.73,0.38],[3.77,0.2],[3.8,0.14],[3.82,0.18],[3.85,0.06],[3.88,0.14],[3.9,0.22],[3.93,0.18],[3.95,0.1],[3.98,0.08],[4.0,0.26],[4.03,0.41],[4.05,0.73],[4.08,0.67],[4.11,0.5],[4.13,0.2],[4.18,0.1],[4.23,0.06],[4.28,0.08],[4.31,0.14],[4.34,0.08],[4.37,0.02],[4.39,0.08],[4.44,0.02],[4.46,0.08],[4.49,0],[4.54,0.06],[4.59,0.1],[4.64,0.02],[4.68,0.02],[4.72,0.06],[4.78,0],[4.8,0.08],[4.82,0.29],[4.83,0.02],[4.86,0.06],[4.9,0.02],[4.93,0.06],[4.95,0.02],[4.98,0.11],[5.0,0.2],[5.03,0.85],[5.05,0.96],[5.08,0.79],[5.11,0],[5.37,0],[5.38,0.03],[5.39,0],[5.47,0],[5.48,0.02],[5.56,0],[5.65,0],[5.67,0.03],[5.68,0],[5.98,0],[6.0,0.26],[6.01,0.02],[6.04,0.29],[6.06,0.02],[6.09,0.18],[6.12,0],[6.14,0.26],[6.17,0.02],[6.2,0],[6.23,0.11],[6.27,0.02],[6.3,0.11],[6.35,0.08],[6.41,0.11],[6.46,0.06],[6.51,0.06],[6.54,0.02],[6.58,0.02],[6.6,0.08],[6.63,0.11],[6.66,0.41],[6.69,0.38],[6.71,0.79],[6.74,0.73],[6.76,0.44],[6.79,0.26],[6.81,0.2],[6.86,0.14],[6.91,0.18],[6.94,0.11],[6.97,0.2],[7.0,0.29],[7.02,0.08],[7.04,0.32],[7.07,0.26],[7.09,0.55],[7.12,0.26],[7.14,0.32],[7.17,0.18],[7.2,0.44],[7.22,0.26],[7.25,0.14],[7.27,0.41],[7.3,0.14],[7.32,0.11],[7.37,0.08],[7.42,0.11],[7.47,0.08],[7.53,0.14],[7.58,0.11],[7.63,0.14],[7.66,0.08],[7.68,0.38],[7.71,0.9],[7.74,0.49],[7.76,0.38],[7.79,0.34],[7.84,0.26],[7.89,0.2],[7.94,0.44],[7.97,0.49],[8.0,0.38]];
const butembo: Pt[] = [[0,0],[5.65,0],[5.67,1.0],[5.69,0],[8,0]];
const bunyakiri: Pt[] = [[0,0],[3.03,0],[3.04,0.07],[3.07,0.45],[3.09,0],[4.665,0],[4.68,1.03],[4.695,0],[6.4,0],[6.41,0.19],[6.44,0.36],[6.46,0.45],[6.49,0.07],[6.51,0],[6.53,0],[6.54,0.1],[6.56,0],[6.59,0],[6.6,0.07],[6.62,0.05],[6.64,0],[6.66,0],[6.68,0.19],[6.7,0],[6.95,0],[6.98,0.45],[7.0,0],[7.16,0],[7.18,0.1],[7.2,0],[7.21,0.19],[7.24,0.45],[7.26,0],[7.33,0],[7.35,0.19],[7.38,0.39],[7.4,0],[7.51,0],[7.53,0.25],[7.54,0],[8,0]];
const beni: Pt[] = [[0,0],[0.22,0],[0.23,0.05],[0.24,0],[0.4,0],[0.41,0.1],[0.44,0.26],[0.46,0.1],[0.47,0],[0.69,0],[0.7,0.03],[0.71,0],[3.06,0],[3.07,0.06],[3.09,0.03],[3.12,0.02],[3.13,0],[5.23,0],[5.24,0.03],[5.25,0],[5.65,0],[5.665,0.5],[5.675,0.98],[5.69,0.5],[5.7,0],[6.63,0],[6.64,0.03],[6.65,0],[6.74,0],[6.75,0.03],[6.76,0],[8,0]];

const seriesList: Pt[][] = [bukavu, katana, uvira, kirotshe, kyondo, masisi, musienene, mutwanga, walikale, birambizo, kabare, rwanguba, nyangezi, idjwi, goma, mangurejipa, walungu, rutshuru, pinga, oicha, nundu, mweso, mwenga, lubero, lemera, kayna, katwa, fizi, butembo, bunyakiri, beni];

// ---------- helpers ----------
function splitRuns(pts: Pt[]) {
  const p = pts.slice();
  if (p[0][0] > 0) p.unshift([0, 0]);
  if (p[p.length - 1][0] < 8) p.push([8, 0]);
  const red: Pt[][] = [];
  const green: Pt[][] = [];
  let curR: Pt[] = [];
  let curG: Pt[] = [];
  for (let i = 0; i < p.length - 1; i++) {
    const a = p[i], b = p[i + 1];
    if (a[1] > 0 || b[1] > 0) {
      if (curG.length) { green.push(curG); curG = []; }
      if (!curR.length) curR.push(a);
      curR.push(b);
    } else {
      if (curR.length) { red.push(curR); curR = []; }
      if (!curG.length) curG.push(a);
      curG.push(b);
    }
  }
  if (curR.length) red.push(curR);
  if (curG.length) green.push(curG);
  return { red, green };
}

const FONT = "'Liberation Sans', Arial, Helvetica, sans-serif";

export default function App() {
  const x = d3.scaleLinear().domain([2000, 2008]).range([179, 1006]);
  const rowY = d3.scaleLinear().domain([0, districts.length - 1]).range([40.7, 891.9]);
  const amp = d3.scaleLinear().domain([0, 1]).range([0, 28.4]);

  const axisY = 927.7;
  const leftAxisX = 147;

  return (
    <svg width={1046} height={995} style={{ position: "absolute", left: 0, top: 0, background: "#fff" }} fontFamily={FONT}>
      <rect x={0} y={0} width={1046} height={995} fill="#ffffff" />
      {/* vertical year grid */}
      {yearTicks.map((yr) => (
        <line key={"g" + yr} x1={x(yr)} x2={x(yr)} y1={10} y2={axisY} stroke="#c0c0c0" strokeWidth={1.6} />
      ))}

      {/* series */}
      {seriesList.map((s, i) => {
        const base = rowY(i);
        const line = d3
          .line<Pt>()
          .x((d) => x(startYear + d[0]))
          .y((d) => base - amp(d[1]));
        const { red, green } = splitRuns(s);
        return (
          <g key={"s" + i}>
            {green.map((r, j) => (
              <path key={"gr" + j} d={line(r) || ""} fill="none" stroke="#22e000" strokeWidth={2.6} />
            ))}
            {red.map((r, j) => (
              <path key={"rd" + j} d={line(r) || ""} fill="none" stroke="#ff0000" strokeWidth={1.8} strokeLinejoin="round" />
            ))}
          </g>
        );
      })}

      {/* left axis with district names and peaks */}
      <line x1={leftAxisX} x2={leftAxisX} y1={rowY(0)} y2={rowY(districts.length - 1)} stroke="#000" strokeWidth={1.6} />
      {districts.map((name, i) => (
        <g key={"l" + i}>
          <line x1={131} x2={leftAxisX} y1={rowY(i)} y2={rowY(i)} stroke="#000" strokeWidth={1.6} />
          <text x={114} y={50.5 + i * 28.43} textAnchor="end" fontSize={18.5} fill="#000">
            {name}
          </text>
          <text x={177} y={rowY(i) + 8.8} textAnchor="end" fontSize={12.5} fill="#0000ff">
            {peakCases[i]}
          </text>
        </g>
      ))}

      {/* bottom axis */}
      <line x1={x(2000)} x2={x(2008)} y1={axisY} y2={axisY} stroke="#000" strokeWidth={1.6} />
      {yearTicks.map((yr) => (
        <g key={"t" + yr}>
          <line x1={x(yr)} x2={x(yr)} y1={axisY} y2={943} stroke="#000" strokeWidth={1.6} />
          <text x={x(yr)} y={987} textAnchor="middle" fontSize={27} fill="#000">
            {yr}
          </text>
        </g>
      ))}
    </svg>
  );
}
